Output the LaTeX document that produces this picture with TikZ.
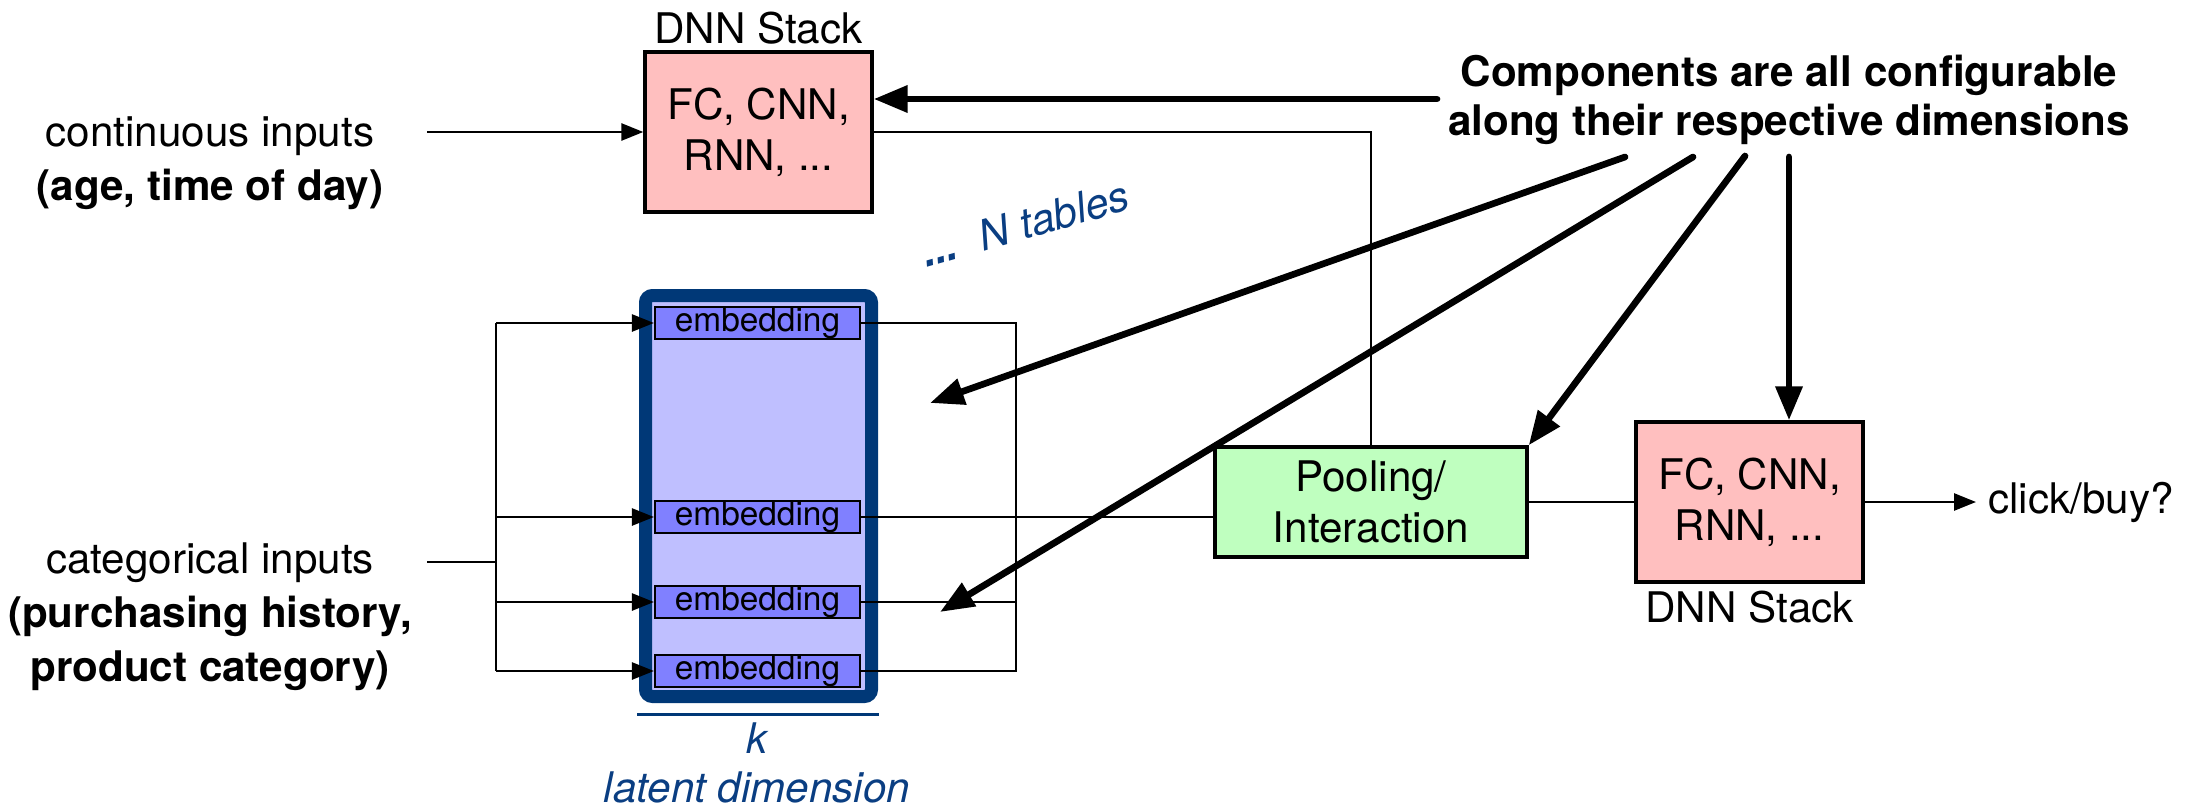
\documentclass[tikz,border=0pt]{standalone}
\usepackage{fontspec}
\setmainfont{TeX Gyre Heros}
\usetikzlibrary{arrows.meta,positioning,calc}
\definecolor{dnnpink}{RGB}{255,191,191}
\definecolor{poolgreen}{RGB}{191,255,191}
\definecolor{embfill}{RGB}{128,128,255}
\definecolor{tabfill}{RGB}{191,191,255}
\definecolor{tabblue}{RGB}{0,56,119}
\definecolor{txtblue}{RGB}{10,62,130}

\begin{document}
\begin{tikzpicture}[font=\fontsize{12}{14.5}\selectfont,
 stack/.style={draw,fill=dnnpink,line width=.95pt,align=center,minimum width=2.27cm,minimum height=1.6cm,inner sep=0pt},
 pool/.style={draw,fill=poolgreen,line width=.95pt,align=center,minimum width=3.12cm,minimum height=1.1cm,inner sep=0pt},
 emb/.style={draw,fill=embfill,line width=.6pt,minimum width=2.05cm,minimum height=.32cm,inner sep=0pt,font=\fontsize{9.5}{11}\selectfont},
 inlbl/.style={align=center,font=\fontsize{12}{15.3}\selectfont},
 dimtxt/.style={text=txtblue,align=center,font=\fontsize{12}{14}\selectfont\itshape},
 wire/.style={line width=.75pt},
 arr/.style={-{Triangle[length=2.2mm,width=1.7mm]},line width=.75pt},
 big/.style={-{Triangle[length=3.4mm,width=2.6mm]},line width=1.9pt,line cap=round}]
\useasboundingbox (0,0) rectangle (22.05,-8.11);

\node[stack] (dnnA) at (7.585,-1.32) {FC, CNN,\\RNN, ...};
\node (dnnAlbl) at (7.585,-.28) {DNN Stack};
\node[inlbl] (cont) at (2.10,-1.63) {continuous inputs\\\textbf{(age, time of day)}};
\coordinate (cin) at (4.27,-1.32);
\draw[arr] (cin) -- (dnnA.west);

\node[draw=tabblue,line width=.13cm,fill=tabfill,rounded corners=2pt,minimum width=2.26cm,minimum height=4.01cm,inner sep=0pt] (tab) at (7.585,-4.96) {};
\node[emb] (e1) at (7.575,-3.23) {embedding};
\node[emb] (e2) at (7.575,-5.17) {embedding};
\node[emb] (e3) at (7.575,-6.02) {embedding};
\node[emb] (e4) at (7.575,-6.71) {embedding};
\draw[tabblue,line width=.35mm] ([xshift=-.2mm,yshift=-1.15mm]tab.south west) -- ([xshift=.1mm,yshift=-1.15mm]tab.south east);
\node[dimtxt] (kdim) at (7.57,-7.63) {k\\latent dimension};
\node[dimtxt,rotate=16] (ntab) at (10.25,-2.24) {\textbf{...}\hspace{7pt}N tables};

\node[inlbl] (cat) at (2.10,-6.17) {categorical inputs\\\textbf{(purchasing history,}\\\textbf{product category)}};
\coordinate (cin2) at (4.27,-5.62);
\coordinate (ibus) at (4.96,-5.62);
\draw[wire] (cin2) -- (ibus);
\draw[wire] (ibus|-e1.west) -- (ibus|-e4.west);
\foreach \e in {e1,e2,e3,e4} \draw[arr] (ibus|-\e.west) -- (\e.west);

\node[pool] (pool) at (13.71,-5.02) {Pooling/\\Interaction};
\coordinate (obus) at (10.16,-4.5);
\draw[wire] (e1.east) -| (obus|-e4.east) -- (e4.east);
\draw[wire] (e3.east) -- (obus|-e3.east);
\draw[wire] (e2.east) -- (e2.east-|pool.west);
\draw[wire] (dnnA.east) -| (pool.north);

\node[stack] (dnnB) at (17.495,-5.02) {FC, CNN,\\RNN, ...};
\node (dnnBlbl) at (17.495,-6.07) {DNN Stack};
\node[anchor=west] (out) at (19.76,-5.02) {click/buy?};
\draw[wire] (pool) -- (dnnB);
\draw[arr] (dnnB) -- (out);

\node[align=center,font=\fontsize{12}{14}\selectfont\bfseries] (comp) at (17.89,-1.00) {Components are all configurable\\along their respective dimensions};
\coordinate (c0) at (14.37,-.99);
\coordinate (f1) at (16.25,-1.57);
\coordinate (f2) at (16.93,-1.57);
\coordinate (f3) at (17.45,-1.56);
\coordinate (f4) at (17.89,-1.57);
\coordinate (t1) at (9.30,-4.03);
\coordinate (t2) at (9.40,-6.12);
\draw[big] (c0) -- (c0-|dnnA.east);
\draw[big] (f1) -- (t1);
\draw[big] (f2) -- (t2);
\draw[big] (f3) -- (pool.north east);
\draw[big] (f4) -- (f4|-dnnB.north);
\end{tikzpicture}
\end{document}
